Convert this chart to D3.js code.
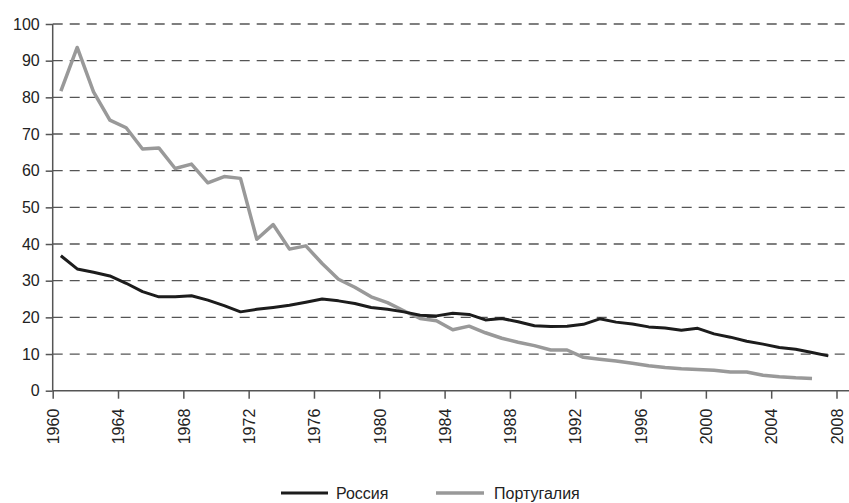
<!DOCTYPE html>
<html>
<head>
<meta charset="utf-8">
<script src="https://cdn.jsdelivr.net/npm/d3@7"></script>
<style>
  html, body { margin: 0; padding: 0; background: #fff; }
  svg { display: block; }
  text { font-family: "Liberation Sans", Arial, sans-serif; fill: #222; }
</style>
</head>
<body>
<svg id="chart" width="849" height="503"></svg>
<script>
const years = d3.range(1960, 2008);
const russia = [36.8, 33.2, 32.3, 31.3, 29.3, 27.0, 25.6, 25.6, 25.9, 24.7,
  23.2, 21.5, 22.2, 22.7, 23.3, 24.1, 25.0, 24.5, 23.8, 22.7,
  22.2, 21.5, 20.6, 20.4, 21.1, 20.8, 19.3, 19.7, 18.8, 17.7,
  17.5, 17.6, 18.1, 19.6, 18.7, 18.2, 17.4, 17.1, 16.5, 17.0,
  15.5, 14.6, 13.5, 12.7, 11.8, 11.3, 10.4, 9.5];
const portugal = [81.7, 93.6, 81.5, 73.8, 71.7, 65.9, 66.2, 60.6, 61.8, 56.7,
  58.4, 57.9, 41.3, 45.3, 38.6, 39.5, 34.7, 30.4, 28.2, 25.6,
  24.0, 21.8, 19.7, 19.1, 16.6, 17.6, 15.8, 14.3, 13.2, 12.3,
  11.1, 11.1, 9.1, 8.6, 8.1, 7.5, 6.8, 6.3, 6.0, 5.8,
  5.6, 5.1, 5.1, 4.2, 3.8, 3.5, 3.3];
const xTicks = d3.range(1960, 2009, 4);
const yTicks = d3.range(0, 101, 10);
const seriesNames = ["Россия", "Португалия"];
const seriesColors = ["#1c1c1c", "#999999"];

const svg = d3.select("#chart");
const pLeft = 52.7, pRight = 849, pTop = 24, pBottom = 390.7;
const x = d3.scaleLinear().domain([1960, 2008]).range([pLeft, 836.5]);
const y = d3.scaleLinear().domain([0, 100]).range([pBottom, pTop]);

// gridlines
svg.append("g").selectAll("line").data(yTicks.filter(d => d > 0)).join("line")
  .attr("x1", pLeft).attr("x2", pRight)
  .attr("y1", d => y(d)).attr("y2", d => y(d))
  .attr("stroke", "#555").attr("stroke-width", 1.3)
  .attr("stroke-dasharray", "10,7");

// y axis
const yAxis = svg.append("g").attr("transform", `translate(${pLeft},0)`)
  .call(d3.axisLeft(y).tickValues(yTicks).tickSize(7).tickPadding(6));
yAxis.select(".domain").remove();
yAxis.selectAll(".tick line").attr("stroke", "#555").attr("stroke-width", 1.5);
yAxis.selectAll("text").attr("font-size", 16).attr("fill", "#222")
  .style("font-family", '"Liberation Sans", Arial, sans-serif');
svg.append("line").attr("x1", pLeft).attr("x2", pLeft).attr("y1", pTop).attr("y2", pBottom)
  .attr("stroke", "#555").attr("stroke-width", 1.5);

// x axis
const xAxis = svg.append("g").attr("transform", `translate(0,${pBottom})`)
  .call(d3.axisBottom(x).tickValues(xTicks).tickFormat(d3.format("d")).tickSize(8));
xAxis.select(".domain").remove();
xAxis.selectAll(".tick line").attr("stroke", "#555").attr("stroke-width", 1.5);
xAxis.selectAll("text")
  .attr("font-size", 16).attr("fill", "#222")
  .style("font-family", '"Liberation Sans", Arial, sans-serif')
  .attr("text-anchor", "end")
  .attr("transform", "rotate(-90)")
  .attr("x", -18).attr("y", 0).attr("dy", "0.36em");
svg.append("line").attr("x1", pLeft).attr("x2", pRight).attr("y1", pBottom).attr("y2", pBottom)
  .attr("stroke", "#555").attr("stroke-width", 1.5);

// lines
const line = d3.line().x((d, i) => x(years[i] + 0.5)).y(d => y(d)).curve(d3.curveLinear);
svg.append("path").datum(portugal).attr("d", line)
  .attr("fill", "none").attr("stroke", seriesColors[1]).attr("stroke-width", 3.5)
  .attr("stroke-linejoin", "round").attr("stroke-linecap", "butt");
svg.append("path").datum(russia).attr("d", line)
  .attr("fill", "none").attr("stroke", seriesColors[0]).attr("stroke-width", 3)
  .attr("stroke-linejoin", "round").attr("stroke-linecap", "butt");

// legend
const legendItems = [
  { name: seriesNames[0], color: seriesColors[0], x1: 281, x2: 328, tx: 336, w: 3 },
  { name: seriesNames[1], color: seriesColors[1], x1: 436, x2: 484, tx: 494, w: 3.5 }
];
const lg = svg.append("g");
legendItems.forEach(it => {
  lg.append("line").attr("x1", it.x1).attr("x2", it.x2).attr("y1", 493).attr("y2", 493)
    .attr("stroke", it.color).attr("stroke-width", it.w);
  lg.append("text").attr("x", it.tx).attr("y", 493).attr("dy", "0.36em")
    .attr("font-size", 16).text(it.name);
});
</script>
</body>
</html>
